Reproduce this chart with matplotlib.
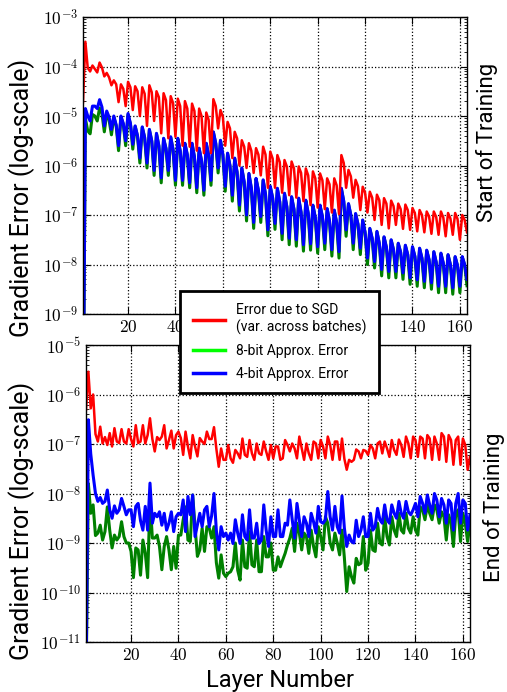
import numpy as np
import matplotlib
matplotlib.use('Agg')
import matplotlib.pyplot as plt
from matplotlib.lines import Line2D
from matplotlib.ticker import LogLocator, NullFormatter

# === Data (log10 of gradient error, one value per layer) ===
top_sgd = [
    -4.72, -3.5, -4.03, -4.1, -3.98, -4.05, -4.12, -3.92, -4.02, -4.2,
    -4.13, -4.22, -4.38, -4.28, -4.36, -4.72, -4.36, -4.45, -4.8, -4.31,
    -4.42, -4.88, -4.4, -4.5, -5.0, -4.42, -4.55, -5.2, -4.38, -4.52,
    -5.1, -4.5, -4.62, -5.35, -4.54, -4.68, -5.45, -4.6, -4.74, -5.42,
    -4.65, -4.8, -5.6, -4.7, -4.85, -5.62, -4.75, -4.9, -5.7, -4.85,
    -5.0, -5.75, -4.93, -5.08, -5.75, -4.66, -4.8, -5.25, -4.88, -5.02,
    -5.6, -5.12, -5.25, -5.85, -5.32, -5.45, -6.0, -5.49, -5.62, -6.05,
    -5.55, -5.7, -6.15, -5.65, -5.78, -6.2, -5.62, -5.78, -6.45, -5.72,
    -5.86, -6.45, -5.79, -5.93, -6.55, -5.89, -6.02, -6.6, -5.92, -6.06,
    -6.65, -6.02, -6.15, -6.72, -6.06, -6.2, -6.8, -6.12, -6.26, -6.85,
    -6.16, -6.3, -6.88, -6.26, -6.38, -6.95, -6.26, -6.4, -6.98, -5.79,
    -5.95, -6.45, -6.09, -6.22, -6.65, -6.29, -6.42, -6.9, -6.43, -6.55,
    -6.95, -6.53, -6.65, -7.1, -6.59, -6.7, -7.2, -6.66, -6.77, -7.27,
    -6.71, -6.82, -7.2, -6.77, -6.88, -7.28, -6.79, -6.9, -7.3, -6.86,
    -6.96, -7.33, -6.9, -7.0, -7.35, -6.93, -7.03, -7.38, -6.93, -7.04,
    -7.4, -6.93, -7.05, -7.43, -6.96, -7.07, -7.4, -6.96, -7.08, -7.5,
    -7.0, -7.1, -7.35,
]
top_4bit = [
    -12, -4.85, -5.0, -5.1, -4.8, -4.8, -4.85, -4.67, -4.82, -5.2,
    -4.9, -5.02, -5.27, -5.0, -5.18, -5.6, -5.0, -5.15, -5.5, -4.95,
    -5.15, -5.57, -5.2, -5.4, -5.85, -5.22, -5.43, -5.95, -5.27, -5.5,
    -6.1, -5.35, -5.6, -6.25, -5.45, -5.65, -6.1, -5.42, -5.68, -6.3,
    -5.45, -5.7, -6.3, -5.55, -5.78, -6.35, -5.55, -5.82, -6.45, -5.65,
    -5.9, -6.5, -5.55, -5.78, -6.3, -5.32, -5.55, -6.05, -5.49, -5.78,
    -6.42, -5.75, -6.0, -6.6, -5.85, -6.13, -6.8, -6.05, -6.33, -7.0,
    -6.16, -6.45, -7.15, -6.26, -6.5, -7.03, -6.29, -6.58, -7.3, -6.42,
    -6.65, -7.17, -6.46, -6.73, -7.37, -6.56, -6.83, -7.47, -6.63, -6.88,
    -7.5, -6.66, -6.94, -7.6, -6.7, -6.96, -7.58, -6.8, -7.05, -7.64,
    -6.8, -7.03, -7.57, -6.87, -7.12, -7.7, -6.9, -7.15, -7.74, -6.46,
    -6.72, -7.3, -6.77, -7.0, -7.57, -6.97, -7.18, -7.67, -7.1, -7.35,
    -7.87, -7.27, -7.47, -7.94, -7.33, -7.57, -8.1, -7.44, -7.65, -8.14,
    -7.5, -7.7, -8.14, -7.57, -7.75, -8.17, -7.61, -7.8, -8.27, -7.64,
    -7.83, -8.31, -7.67, -7.87, -8.34, -7.71, -7.9, -8.37, -7.74, -7.95,
    -8.44, -7.77, -7.97, -8.44, -7.8, -8.0, -8.47, -7.84, -8.02, -8.44,
    -7.84, -8.0, -8.3,
]
top_8bit = [
    -12, -5.05, -5.3, -5.36, -4.97, -5.0, -5.1, -4.84, -4.95, -5.32,
    -4.95, -5.08, -5.38, -5.02, -5.2, -5.7, -5.02, -5.17, -5.6, -4.97,
    -5.16, -5.67, -5.21, -5.41, -5.95, -5.23, -5.44, -6.05, -5.28, -5.51,
    -6.2, -5.36, -5.61, -6.35, -5.46, -5.66, -6.2, -5.43, -5.69, -6.4,
    -5.46, -5.71, -6.4, -5.56, -5.79, -6.45, -5.56, -5.83, -6.55, -5.66,
    -5.91, -6.6, -5.56, -5.79, -6.4, -5.33, -5.56, -6.15, -5.5, -5.79,
    -6.52, -5.76, -6.01, -6.72, -5.86, -6.14, -6.92, -6.06, -6.34, -7.12,
    -6.17, -6.46, -7.27, -6.27, -6.51, -7.15, -6.3, -6.59, -7.42, -6.43,
    -6.66, -7.29, -6.47, -6.74, -7.5, -6.57, -6.84, -7.6, -6.64, -6.89,
    -7.63, -6.67, -6.95, -7.73, -6.71, -6.97, -7.71, -6.81, -7.06, -7.77,
    -6.81, -7.04, -7.7, -6.88, -7.13, -7.83, -6.91, -7.16, -7.87, -6.47,
    -6.73, -7.43, -6.78, -7.01, -7.7, -6.98, -7.19, -7.8, -7.11, -7.36,
    -8.0, -7.28, -7.48, -8.07, -7.34, -7.58, -8.23, -7.45, -7.66, -8.27,
    -7.51, -7.71, -8.27, -7.58, -7.76, -8.3, -7.62, -7.81, -8.4, -7.65,
    -7.84, -8.44, -7.68, -7.88, -8.47, -7.72, -7.91, -8.5, -7.75, -7.96,
    -8.57, -7.78, -7.98, -8.57, -7.81, -8.01, -8.6, -7.85, -8.03, -8.57,
    -7.85, -8.01, -8.43,
]
bot_sgd = [
    -6.31, -5.54, -6.28, -6.0, -6.8, -6.95, -6.65, -6.99, -6.86, -7.02,
    -6.78, -7.05, -6.68, -6.95, -6.98, -6.7, -6.95, -6.99, -6.7, -6.9,
    -7.05, -6.62, -6.98, -6.95, -6.62, -6.99, -6.82, -6.48, -6.9, -7.15,
    -6.86, -6.92, -6.85, -6.62, -7.09, -6.92, -6.73, -7.09, -6.82, -6.75,
    -6.88, -7.22, -6.75, -7.05, -7.29, -6.82, -7.05, -7.25, -6.88, -6.95,
    -7.0, -6.75, -6.9, -6.9, -6.66, -7.1, -7.46, -7.09, -7.32, -7.32,
    -7.02, -7.29, -7.38, -7.12, -7.19, -7.29, -6.89, -7.22, -7.26, -6.92,
    -7.19, -7.32, -6.99, -7.19, -7.22, -6.95, -7.15, -7.32, -7.02, -7.29,
    -7.05, -7.05, -7.32, -7.29, -6.92, -7.02, -7.15, -6.99, -7.09, -7.29,
    -6.85, -7.09, -7.32, -6.99, -7.19, -7.32, -6.95, -6.99, -7.29, -6.92,
    -7.05, -7.29, -6.85, -7.02, -7.32, -6.95, -6.95, -7.32, -6.89, -7.3,
    -7.52, -7.32, -7.36, -7.32, -7.11, -7.15, -7.29, -7.12, -7.14, -7.22,
    -7.02, -7.09, -7.29, -6.99, -6.95, -7.19, -6.95, -7.09, -7.26, -6.92,
    -7.12, -7.22, -6.91, -7.02, -7.26, -6.85, -6.99, -7.29, -6.85, -6.92,
    -7.26, -6.85, -6.89, -7.29, -6.82, -6.89, -7.32, -6.85, -6.99, -7.32,
    -6.78, -6.85, -7.36, -6.82, -6.92, -7.42, -6.92, -6.85, -7.42, -6.89,
    -7.02, -7.52, -7.26,
]
bot_4bit = [
    -12, -6.51, -7.2, -7.63, -8.0, -8.16, -8.08, -8.2, -8.16, -7.93,
    -8.33, -8.5, -8.25, -8.4, -8.33, -8.1, -8.26, -8.43, -8.33, -8.33,
    -8.67, -8.26, -8.2, -8.55, -8.74, -8.26, -8.74, -7.79, -8.6, -8.4,
    -8.47, -8.37, -8.64, -8.4, -8.74, -8.6, -8.37, -8.77, -8.47, -8.4,
    -8.43, -8.13, -8.77, -8.06, -8.43, -8.03, -8.87, -8.64, -8.4, -8.67,
    -8.33, -8.26, -8.67, -8.45, -8.0, -8.75, -9.14, -8.67, -8.87, -8.8,
    -8.94, -8.8, -9.01, -8.53, -8.8, -9.01, -8.43, -8.87, -8.94, -8.33,
    -8.9, -8.9, -8.6, -9.01, -8.94, -8.23, -8.74, -9.07, -8.47, -8.87,
    -8.87, -8.33, -8.87, -8.87, -8.6, -8.64, -8.13, -8.53, -8.9, -8.2,
    -8.53, -8.87, -8.47, -8.6, -8.87, -8.4, -8.57, -8.8, -8.26, -8.57,
    -8.6, -8.53, -7.96, -8.47, -8.74, -8.26, -8.67, -8.8, -8.05, -8.7,
    -9.07, -8.84, -8.97, -9.0, -8.54, -8.87, -8.74, -8.47, -8.87, -8.87,
    -8.4, -8.74, -8.67, -8.3, -8.53, -8.6, -8.23, -8.53, -8.6, -8.23,
    -8.4, -8.5, -8.16, -8.4, -8.5, -8.16, -8.37, -8.43, -8.33, -8.2,
    -8.47, -8.06, -8.2, -8.4, -8.03, -8.23, -8.4, -8.0, -8.13, -8.47,
    -8.1, -8.23, -8.6, -8.13, -8.2, -8.74, -8.2, -8.0, -8.6, -8.13,
    -8.2, -8.74, -8.43,
]
bot_8bit = [
    -12, -7.8, -8.4, -8.23, -8.85, -8.8, -8.64, -8.94, -8.77, -8.27,
    -8.74, -9.1, -8.84, -8.94, -8.87, -8.57, -8.87, -9.0, -9.0, -9.17,
    -9.7, -9.1, -9.14, -9.65, -8.94, -9.2, -9.7, -8.13, -8.9, -8.9,
    -8.84, -9.07, -9.54, -9.07, -8.87, -9.14, -9.54, -9.07, -9.51, -8.84,
    -8.84, -8.53, -8.27, -8.94, -8.97, -8.03, -8.67, -9.27, -9.14, -8.7,
    -9.17, -8.67, -8.7, -8.9, -8.67, -9.4, -9.71, -9.24, -9.61, -9.68,
    -9.61, -9.58, -9.48, -9.0, -9.55, -9.75, -8.94, -9.48, -9.51, -8.77,
    -9.44, -9.48, -8.94, -9.58, -9.58, -8.87, -9.28, -9.28, -9.0, -9.55,
    -9.55, -9.28, -9.48, -9.34, -9.21, -9.04, -8.9, -8.7, -9.17, -8.6,
    -8.8, -9.14, -8.8, -8.87, -9.21, -8.74, -9.07, -9.28, -8.67, -8.87,
    -9.14, -8.47, -8.6, -9.0, -9.14, -8.8, -9.0, -9.24, -8.74, -9.3,
    -9.98, -9.48, -9.68, -9.81, -9.31, -9.44, -9.41, -8.87, -9.55, -9.41,
    -8.74, -9.14, -9.17, -8.6, -9.0, -9.04, -8.47, -8.87, -9.04, -8.47,
    -8.74, -8.87, -8.4, -8.74, -8.8, -8.4, -8.7, -8.8, -8.47, -8.74,
    -8.84, -8.27, -8.33, -8.53, -8.23, -8.4, -8.53, -8.23, -8.33, -8.6,
    -8.37, -8.47, -8.94, -8.43, -8.6, -9.07, -8.4, -8.33, -8.97, -8.4,
    -8.6, -8.97, -8.6,
]

layers = np.arange(1, len(top_sgd) + 1)
x_ticks = [20, 40, 60, 80, 100, 120, 140, 160]
top_decades = [-9, -8, -7, -6, -5, -4, -3]
bot_decades = [-11, -10, -9, -8, -7, -6, -5]
legend_labels = ['Error due to SGD\n(var. across batches)',
                 '8-bit Approx. Error', '4-bit Approx. Error']

plt.rcParams['mathtext.fontset'] = 'cm'
plt.rcParams['font.family'] = ['Roboto', 'DejaVu Sans']

W, H = 507, 692
fig = plt.figure(figsize=(W / 100, H / 100), dpi=100)
ax_top = fig.add_axes([83 / W, 1 - 314 / H, 384 / W, 297 / H])
ax_bot = fig.add_axes([86 / W, 1 - 642 / H, 384 / W, 297 / H])

panels = [
    (ax_top, top_8bit, top_4bit, top_sgd, top_decades),
    (ax_bot, bot_8bit, bot_4bit, bot_sgd, bot_decades),
]

for ax, g8, b4, sgd, decs in panels:
    ax.semilogy(layers, 10.0 ** np.array(g8), color='#008000', lw=2.2)
    ax.semilogy(layers, 10.0 ** np.array(b4), color='#0000ff', lw=2.2)
    ax.semilogy(layers, 10.0 ** np.array(sgd), color='#ff0000', lw=1.8)
    ax.set_xlim(1, 163)
    ax.set_ylim(10.0 ** decs[0], 10.0 ** decs[-1])
    ax.set_xticks(x_ticks, [f'${t}$' for t in x_ticks])
    ax.set_yticks([10.0 ** d for d in decs], [f'$10^{{{d}}}$' for d in decs])
    ax.yaxis.set_minor_locator(LogLocator(base=10, subs=np.arange(2, 10), numticks=20))
    ax.yaxis.set_minor_formatter(NullFormatter())
    ax.tick_params(which='both', direction='in', top=True, right=True, labelsize=12.5)
    ax.tick_params(which='major', length=5, width=0.8)
    ax.tick_params(which='minor', length=2.5, width=0.6)
    ax.grid(True, which='major', ls=':', color='k', lw=0.9)
    for s in ax.spines.values():
        s.set_linewidth(1.0)

# === Labels ===
fig.text(22 / W, 1 - 198 / H, 'Gradient Error (log-scale)', rotation=90,
         ha='center', va='center', fontsize=18)
fig.text(22 / W, 1 - 521 / H, 'Gradient Error (log-scale)', rotation=90,
         ha='center', va='center', fontsize=18)
fig.text(487 / W, 1 - 142 / H, 'Start of Training', rotation=90,
         ha='center', va='center', fontsize=16)
fig.text(494 / W, 1 - 507 / H, 'End of Training', rotation=90,
         ha='center', va='center', fontsize=16)
fig.text(280 / W, 1 - 680 / H, 'Layer Number', ha='center', va='center', fontsize=17)

# === Legend ===
handles = [Line2D([], [], color='#ff0000', lw=2.5),
           Line2D([], [], color='#00ff00', lw=2.5),
           Line2D([], [], color='#0000ff', lw=2.5)]
leg = fig.legend(handles, legend_labels, loc='center',
                 bbox_to_anchor=(279.5 / W, 1 - 342 / H), fontsize=10,
                 frameon=True, fancybox=False, edgecolor='k', framealpha=1,
                 handlelength=2.3, handletextpad=0.8, borderpad=0.9,
                 labelspacing=0.65)
leg.get_frame().set_linewidth(2)

fig.savefig('out.png', dpi=100)
